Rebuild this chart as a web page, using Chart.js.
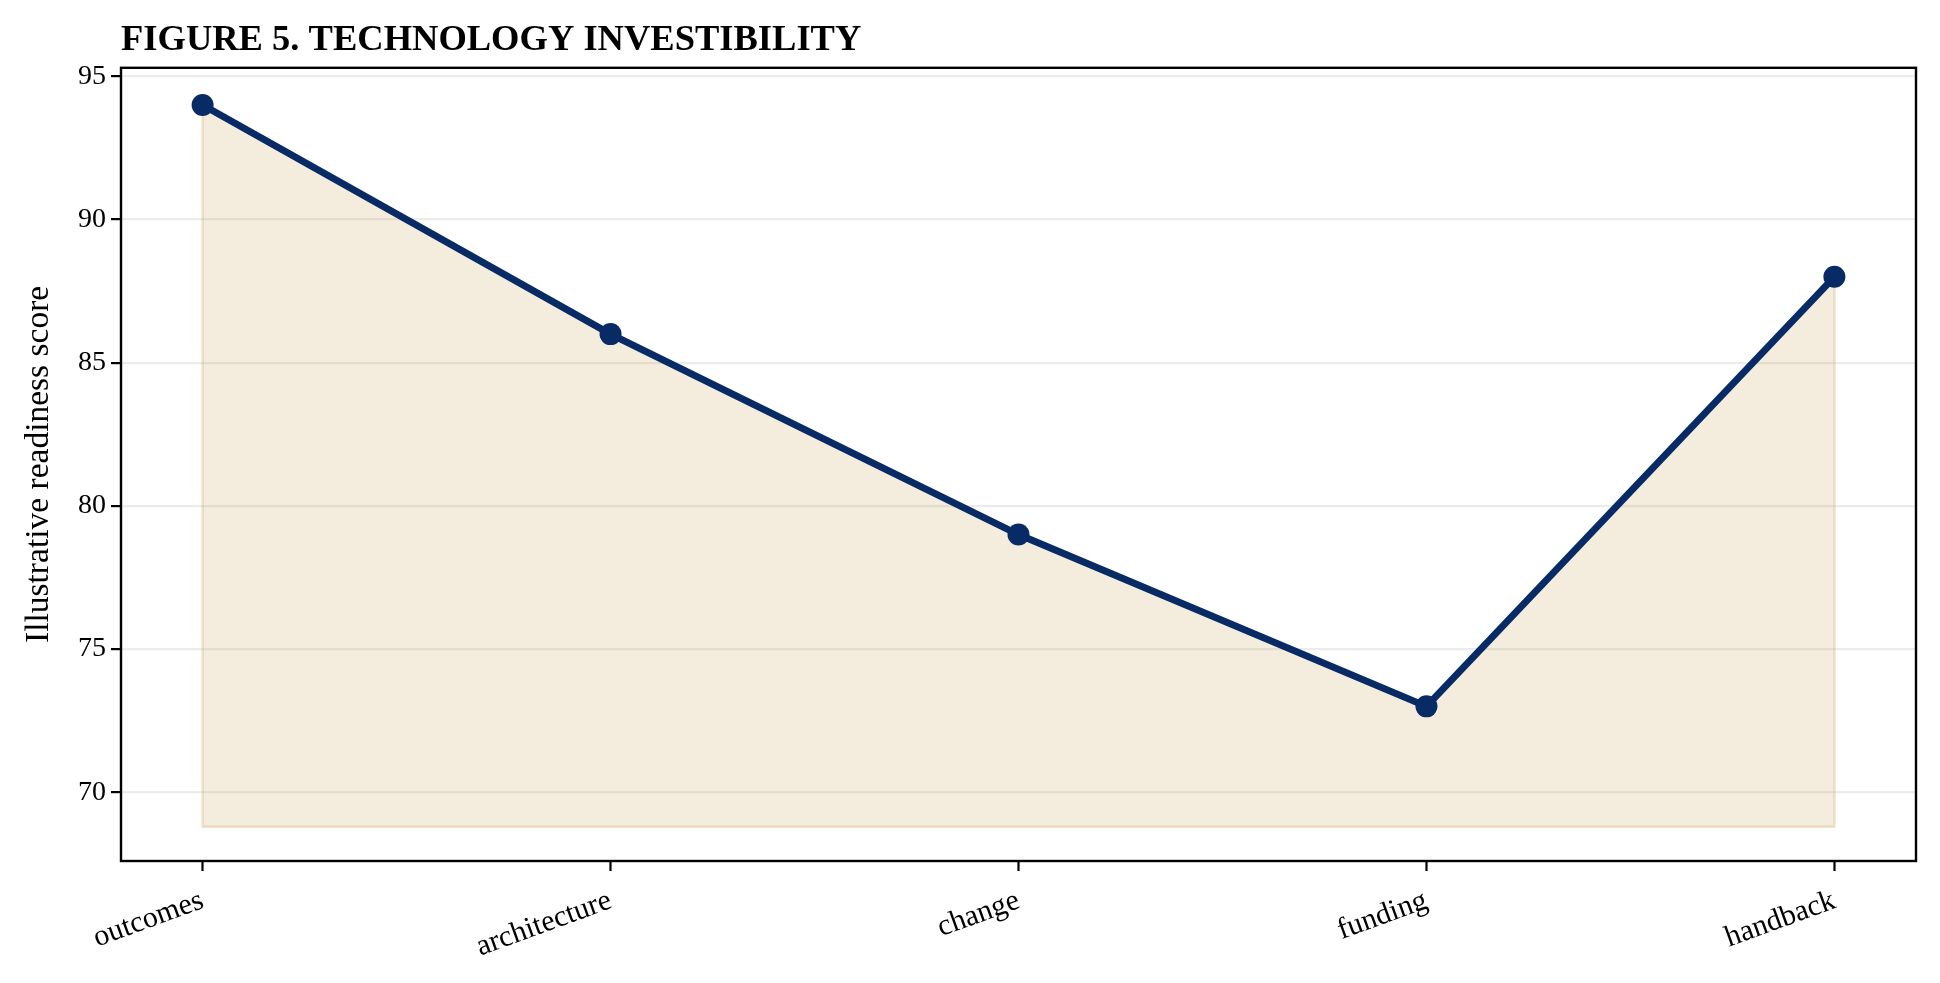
<!DOCTYPE html>
<html>
<head>
<meta charset="utf-8">
<script src="https://cdn.jsdelivr.net/npm/chart.js@4/dist/chart.umd.min.js"></script>
<style>
    html, body { margin: 0; padding: 0; background: #fff; }
    #wrap { width: 1940px; height: 983px; }
</style>
</head>
<body>
<div id="wrap"><canvas id="readinessChart" width="1940" height="983"></canvas></div>
<script>
// Chart data
const categories = ['outcomes', 'architecture', 'change', 'funding', 'handback'];
const scores = [94, 86, 79, 73, 88];
const yTickValues = [70, 75, 80, 85, 90, 95];
const fillBase = 68.8;

const NAVY = '#082b66';
const SERIF = '"Liberation Serif", "Times New Roman", serif';

// Draw the full axes box
const frameBox = {
    id: 'frameBox',
    afterDraw(chart) {
        const { ctx, chartArea: a } = chart;
        ctx.save();
        ctx.strokeStyle = '#000';
        ctx.lineWidth = 2.4;
        ctx.strokeRect(a.left, a.top, a.right - a.left, a.bottom - a.top);
        ctx.restore();
    }
};

// Build points from the arrays
function buildPoints() {
    return scores.map((v, i) => ({ x: i, y: v }));
}

// Outline of the shaded area (sides and bottom)
function buildEdge() {
    const last = scores.length - 1;
    return [
        { x: 0, y: scores[0] },
        { x: 0, y: fillBase },
        { x: last, y: fillBase },
        { x: last, y: scores[last] }
    ];
}

function renderChart() {
    const ctx = document.getElementById('readinessChart');

    new Chart(ctx, {
        type: 'line',
        data: {
            datasets: [{
                label: 'score',
                data: buildPoints(),
                borderColor: NAVY,
                borderWidth: 7,
                backgroundColor: 'rgba(200,165,90,0.2)',
                fill: { value: fillBase },
                pointRadius: 11,
                pointBackgroundColor: NAVY,
                pointBorderWidth: 0,
                tension: 0,
                order: 0
            }, {
                label: 'edge',
                data: buildEdge(),
                borderColor: 'rgba(200,165,90,0.3)',
                borderWidth: 2.5,
                pointRadius: 0,
                fill: false,
                order: 1
            }]
        },
        options: {
            responsive: false,
            animation: false,
            devicePixelRatio: 1,
            layout: { padding: { left: 0, right: 24, top: 0, bottom: 0 } },
            plugins: {
                legend: { display: false },
                tooltip: { enabled: false },
                title: {
                    display: true,
                    text: 'FIGURE 5. TECHNOLOGY INVESTIBILITY',
                    align: 'start',
                    fullSize: false,
                    color: '#000',
                    font: { family: SERIF, size: 36.5, weight: 'bold', lineHeight: 1.2 },
                    padding: { top: 19, bottom: 5 }
                }
            },
            scales: {
                x: {
                    type: 'linear',
                    min: -0.2,
                    max: 4.2,
                    afterBuildTicks: axis => {
                        axis.ticks = categories.map((c, i) => ({ value: i }));
                    },
                    afterFit: scale => { scale.height = 122; },
                    border: { display: false },
                    grid: {
                        drawOnChartArea: false,
                        tickLength: 10,
                        tickColor: '#000',
                        tickWidth: 2.2
                    },
                    ticks: {
                        autoSkip: false,
                        minRotation: 20,
                        maxRotation: 20,
                        padding: 12,
                        color: '#000',
                        font: { family: SERIF, size: 30 },
                        callback: value => categories[value]
                    }
                },
                y: {
                    min: 67.6,
                    max: 95.3,
                    afterBuildTicks: axis => {
                        axis.ticks = yTickValues.map(v => ({ value: v }));
                    },
                    afterFit: scale => { scale.width = 121; },
                    border: { display: false },
                    grid: {
                        color: '#ececec',
                        lineWidth: 2.2,
                        tickLength: 10,
                        tickColor: '#000',
                        tickWidth: 2.2
                    },
                    ticks: {
                        padding: 5,
                        color: '#000',
                        font: { family: SERIF, size: 28 }
                    },
                    title: {
                        display: true,
                        text: 'Illustrative readiness score',
                        color: '#000',
                        font: { family: SERIF, size: 33.5, lineHeight: 1.2 },
                        padding: { top: 19, bottom: 0 }
                    }
                }
            }
        },
        plugins: [frameBox]
    });
}

document.addEventListener('DOMContentLoaded', renderChart);
</script>
</body>
</html>
